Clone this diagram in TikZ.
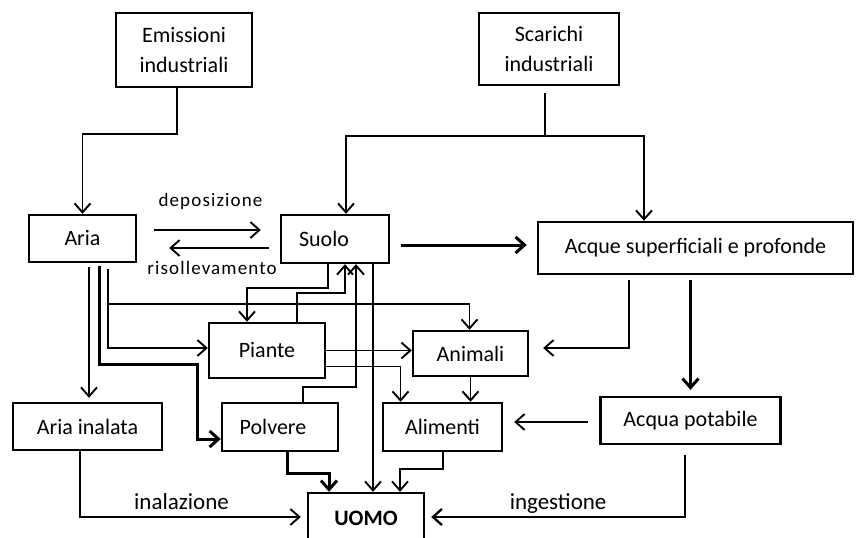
\documentclass[tikz,border=0pt]{standalone}
\usepackage{fontspec}
\setmainfont{Carlito}
\usetikzlibrary{arrows.meta}

\begin{document}
\begin{tikzpicture}[x=1pt, y=-1pt,
  box/.style = {draw, line width=2.4pt, inner sep=0pt, align=center, font=\fontsize{22}{30}\selectfont},
  conn/.style = {line width=1.9pt, -{Straight Barb[length=9pt, width=16pt]}},
  heavy/.style = {conn, line width=3pt},
  lbl/.style = {inner sep=0pt, font=\fontsize{19}{22}\selectfont\addfontfeatures{LetterSpace=6}},
  way/.style = {inner sep=0pt, font=\fontsize{23}{26}\selectfont}]

        \useasboundingbox (0,0) rectangle (857,538);

        \node[box, minimum width=136pt, minimum height=74pt, xshift=184pt, yshift=-50pt] (emiss) {Emissioni\\industriali};
        \node[box, minimum width=140pt, minimum height=72pt, xshift=549pt, yshift=-49pt] (scar) {Scarichi\\industriali};
        \node[box, minimum width=107pt, minimum height=47pt, xshift=82.5pt, yshift=-238.5pt] (aria) {Aria};
        \node[box, minimum width=108pt, minimum height=48pt, xshift=335pt, yshift=-239pt] (suolo) {Suolo\hspace*{22pt}};
        \node[box, minimum width=315pt, minimum height=52pt, xshift=695.5pt, yshift=-248pt] (acque) {Acque superficiali e profonde};
        \node[box, minimum width=116pt, minimum height=55pt, xshift=267pt, yshift=-350.5pt] (piante) {Piante};
        \node[box, minimum width=115pt, minimum height=45pt, xshift=470.5pt, yshift=-353.5pt] (animali) {Animali};
        \node[box, minimum width=149pt, minimum height=47pt, xshift=87.5pt, yshift=-426.5pt] (inalata) {Aria inalata};
        \node[box, minimum width=116pt, minimum height=48pt, xshift=280pt, yshift=-427pt] (polvere) {Polvere\hspace*{14pt}};
        \node[box, minimum width=119pt, minimum height=48pt, xshift=442.5pt, yshift=-427pt] (alimenti) {Alimenti};
        \node[box, minimum width=180pt, minimum height=47pt, xshift=690.5pt, yshift=-420.5pt] (potabile) {Acqua potabile};
        \node[box, minimum width=116pt, minimum height=50pt, xshift=366pt, yshift=-518pt, font=\fontsize{22}{26}\selectfont\bfseries] (uomo) {UOMO};

        \draw[conn] ([xshift=-7]emiss.south) -- ++(0,46) -| (aria.north);
        \draw[line width=1.9pt] ([xshift=-4,yshift=-7]scar.south) -- ++(0,43) coordinate (split);
        \draw[conn] (split) -| ([xshift=11]suolo.north);
        \draw[conn] (split) -| ([xshift=-51.5]acque.north);

        \draw[conn] ([xshift=17,yshift=8.5]aria.east) -- node[lbl, midway, anchor=base, yshift=24pt, xshift=3pt] (dep) {deposizione} ([xshift=-19,yshift=9]suolo.west);
        \draw[conn] ([xshift=-11,yshift=-9]suolo.west) -- node[lbl, midway, anchor=base, yshift=-26pt, xshift=-7pt] (ris) {risollevamento} ([xshift=32,yshift=-9.5]aria.east);
        \draw[heavy] ([xshift=11,yshift=-6]suolo.east) -- ([xshift=-10,yshift=3]acque.west);

        \draw[conn] ([xshift=6.5,yshift=-4]aria.south) -- ([xshift=1.5,yshift=4]inalata.north);
        \draw[heavy] ([xshift=16.5,yshift=-3]aria.south) -- ++(0,98) -- ++(98,0) |- ([yshift=-12]polvere.west);
        \draw[conn] ([xshift=25.5,yshift=-6]aria.south) |- ([yshift=2.5]piante.west);
        \draw[conn] ([xshift=25.5,yshift=-41]aria.south) -| ([xshift=-1]animali.north);

        \draw[conn] ([xshift=-7]suolo.south) -- ++(0,24) -| ([xshift=-20]piante.north);
        \draw[conn] ([xshift=30]piante.north) -- ++(0,-29) -| ([xshift=10]suolo.south);
        \draw[conn] ([xshift=23]polvere.north) -- ++(0,-15) -| ([xshift=21]suolo.south);
        \draw[conn] ([xshift=38]suolo.south) -- ([xshift=7]uomo.north);

        \draw[conn] (piante.east) -- (piante.east -| animali.west);
        \draw[conn] ([yshift=-16]piante.east) -| ([xshift=-42]alimenti.north);
        \draw[conn] (animali.south) -- (alimenti.north -| animali.south);
        \draw[conn] ([xshift=-66.5,yshift=-5]acque.south) |- ([xshift=14,yshift=5.5]animali.east);
        \draw[heavy] ([xshift=-5,yshift=-5]acque.south) -- ([yshift=6]potabile.north);
        \draw[conn] ([xshift=-11,yshift=-1.5]potabile.west) -- ([xshift=11,yshift=5]alimenti.east);

        \draw[conn] ([xshift=-7.5]inalata.south) |- ([xshift=-6,yshift=1]uomo.west) node[way, pos=.73, anchor=base, yshift=8pt] (inal) {inalazione};
        \draw[conn, line width=2.3pt] ([xshift=-5.5,yshift=-10]potabile.south) |- ([xshift=6,yshift=1]uomo.east) node[way, pos=.75, anchor=base, yshift=8pt] (inges) {ingestione};
        \draw[heavy] ([xshift=7]polvere.south) -- ++(0,21) -| ([xshift=-37]uomo.north);
        \draw[conn] ([xshift=0.5]alimenti.south) -- ++(0,17) -| ([xshift=34]uomo.north);

\end{tikzpicture}
\end{document}
